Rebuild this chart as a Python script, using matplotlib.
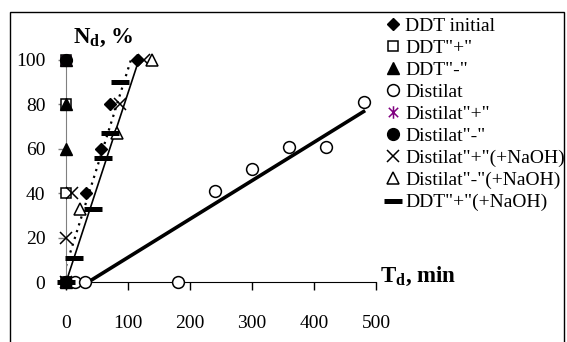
import numpy as np
import matplotlib
matplotlib.use("Agg")
import matplotlib.pyplot as plt
from matplotlib.path import Path
from matplotlib.patches import Rectangle

plt.rcParams['font.family'] = ['Liberation Serif', 'DejaVu Serif']
plt.rcParams['mathtext.fontset'] = 'custom'
plt.rcParams['mathtext.rm'] = 'Liberation Serif'
plt.rcParams['mathtext.bf'] = 'Liberation Serif:bold'

# ---------------- data ----------------
ddt_init_x = [0, 33, 57, 71, 114]
ddt_init_y = [0, 40, 60, 80, 100]

ddt_plus_x = [0, 0, 0, 0]
ddt_plus_y = [0, 40, 80, 100]

ddt_minus_x = [0, 0, 0, 0]
ddt_minus_y = [0, 60, 80, 100]

dist_x = [0, 15, 30, 180, 240, 300, 360, 420, 480]
dist_y = [0, 0, 0, 0, 41, 51, 61, 61, 81]

dist_plus_x = [0, 0]
dist_plus_y = [0, 100]

dist_minus_x = [0, 0]
dist_minus_y = [0, 100]

dist_plus_naoh_x = [0, 0, 9, 87, 125]
dist_plus_naoh_y = [0, 20, 40, 80, 100]

dist_minus_naoh_x = [23, 82, 138]
dist_minus_naoh_y = [33, 67, 100]

ddt_plus_naoh_x = [0, 13, 44, 60, 71, 87]
ddt_plus_naoh_y = [0, 11, 33, 56, 67, 90]

labels = ['DDT initial', 'DDT"+"', 'DDT"-"', 'Distilat', 'Distilat"+"',
          'Distilat"-"', 'Distilat"+"(+NaOH)', 'Distilat"-"(+NaOH)',
          'DDT"+"(+NaOH)']
x_ticks = [0, 100, 200, 300, 400, 500]
y_ticks = [0, 20, 40, 60, 80, 100]

# ---------------- figure ----------------
W, H = 567, 342
fig = plt.figure(figsize=(W / 100, H / 100), dpi=100)
ax = fig.add_axes([66 / W, 1 - 282.3 / H, (376 - 66) / W, (282.3 - 60) / H])
ax.set_xlim(0, 500)
ax.set_ylim(0, 100)

# trend lines
xs = np.linspace(0, max(ddt_init_x), 50)
c = np.polyfit(ddt_init_x, ddt_init_y, 1)
ax.plot(xs, np.polyval(c, xs), color='black', lw=1.6, ls=(0, (1, 2.2)), zorder=2)

xn = np.array(dist_plus_naoh_x, float)
yn = np.array(dist_plus_naoh_y, float)
k = (xn * yn).sum() / (xn * xn).sum()
xs2 = np.linspace(0, xn.max(), 50)
ax.plot(xs2, k * xs2, color='black', lw=1.2, zorder=2)

cd = np.polyfit(dist_x, dist_y, 1)
xs3 = np.linspace(0, max(dist_x), 100)
ax.plot(xs3, np.polyval(cd, xs3), color='black', lw=2.6, zorder=2)

asterisk = Path([(0, -1), (0, 1), (-0.75, -0.75), (0.75, 0.75), (-0.75, 0.75), (0.75, -0.75)],
                [Path.MOVETO, Path.LINETO, Path.MOVETO, Path.LINETO, Path.MOVETO, Path.LINETO])

kw = dict(ls='none', clip_on=False, zorder=3)
h = []
h += ax.plot(ddt_init_x, ddt_init_y, marker='D', ms=6, mfc='black', mec='black', **kw)
h += ax.plot(ddt_plus_x, ddt_plus_y, marker='s', ms=7, mfc='white', mec='black', mew=1.1, **kw)
h += ax.plot(ddt_minus_x, ddt_minus_y, marker='^', ms=9, mfc='black', mec='black', **kw)
h += ax.plot(dist_x, dist_y, marker='o', ms=8.5, mfc='white', mec='black', mew=1.1, **kw)
h += ax.plot(dist_plus_x, dist_plus_y, marker=asterisk, ms=9, mfc='none', mec='#800080', mew=1.1, **kw)
h += ax.plot(dist_minus_x, dist_minus_y, marker='o', ms=8.5, mfc='black', mec='black', **kw)
h += ax.plot(dist_plus_naoh_x, dist_plus_naoh_y, marker='x', ms=8, mec='black', mew=1.1, **kw)
h += ax.plot(dist_minus_naoh_x, dist_minus_naoh_y, marker='^', ms=9, mfc='white', mec='black', mew=1.1, **kw)
h += ax.plot(ddt_plus_naoh_x, ddt_plus_naoh_y, marker='_', ms=13, mec='black', mew=3.6, **kw)

# axes styling
for s in ['top', 'right']:
    ax.spines[s].set_visible(False)
ax.spines['bottom'].set_position(('data', 0))
ax.spines['left'].set_position(('data', 0))
ax.spines['left'].set_color('#808080')
ax.spines['bottom'].set_color('black')
ax.set_xticks(x_ticks)
ax.set_yticks(y_ticks)
ax.set_xticklabels([str(v) for v in x_ticks])
ax.set_yticklabels([str(v) for v in y_ticks])
ax.tick_params(axis='x', direction='out', length=5.8, width=1, pad=18, labelsize=14, color='black')
ax.tick_params(axis='y', direction='out', length=5.8, width=1, pad=9, labelsize=14, color='#808080')
ax.set_facecolor('none')

fig.text(73 / W, 1 - 43 / H, r'$\mathbf{N}_{\mathbf{d}}$, %', fontsize=16.5, fontweight='bold',
         ha='left', va='baseline')
fig.text(380 / W, 1 - 282 / H, r'$\mathbf{T}_{\mathbf{d}}$, min', fontsize=16.5, fontweight='bold',
         ha='left', va='baseline')

leg = fig.legend(h, labels, loc='upper left', bbox_to_anchor=(385 / W, 1 - 17 / H),
                 frameon=False, fontsize=14, handlelength=0.8, handletextpad=0.25,
                 labelspacing=0.23, borderpad=0, borderaxespad=0, numpoints=1)

fig.patches.append(Rectangle((10 / W, -0.1), (564 - 10) / W, 1.1 - 12 / H,
                             transform=fig.transFigure, fill=False, ec='black', lw=1.0))

fig.savefig('out.png', dpi=100)
